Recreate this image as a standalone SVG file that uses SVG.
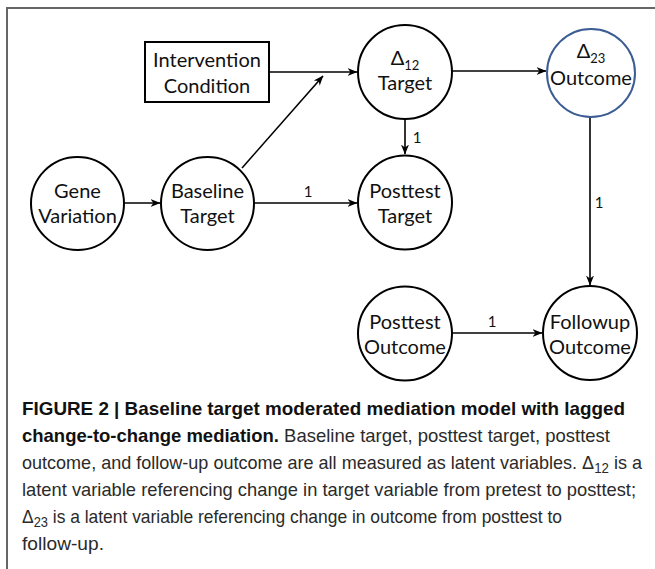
<svg xmlns="http://www.w3.org/2000/svg" width="655" height="569" viewBox="0 0 655 569">
<style>
.n{fill:#fff;stroke:#000;stroke-width:2}
.b{stroke:#3c5d94}
.t{font-family:Lato,"Open Sans",sans-serif;font-size:20px;fill:#111;text-anchor:middle}
.s{font-size:13px}
.l{font-family:Lato,"Open Sans",sans-serif;font-size:15px;fill:#111;text-anchor:middle}
.c{stroke:#000;stroke-width:1.6;fill:none;marker-end:url(#ah)}
.cap{font-family:"Liberation Sans",Arial,sans-serif;font-size:19px;fill:#2a2a2a}
.bd{font-weight:bold;fill:#111}
</style>
<defs>
<marker id="ah" viewBox="0 0 10 10" refX="9.5" refY="5" markerWidth="10" markerHeight="10" markerUnits="userSpaceOnUse" orient="auto">
<path d="M0,1 L10,5 L0,9 L3,5 z" fill="#000"/>
</marker>
</defs>
<path d="M7,569 V8 H655" fill="none" stroke="#666" stroke-width="2"/>
<g id="connectors">
<path class="c" d="M269,72 H357"/>
<path class="c" d="M242,168 L323,76"/>
<path class="c" d="M452,71 H546"/>
<path class="c" d="M405,119 V154"/>
<path class="c" d="M124,203 H160"/>
<path class="c" d="M254,203 H357"/>
<path class="c" d="M590,117 V285"/>
<path class="c" d="M452,333 H542"/>
<text class="l" x="417" y="143">1</text>
<text class="l" x="308" y="197">1</text>
<text class="l" x="599" y="208">1</text>
<text class="l" x="492" y="327">1</text>
</g>
<g id="intervention">
<rect class="n" x="145" y="42" width="124" height="60"/>
<text class="t" x="207" y="67">Intervention</text>
<text class="t" x="207" y="93">Condition</text>
</g>
<g id="delta12">
<circle class="n" cx="405" cy="72" r="47"/>
<text class="t" x="405" y="65">Δ<tspan class="s" dy="5">12</tspan></text>
<text class="t" x="405" y="90">Target</text>
</g>
<g id="delta23">
<circle class="n b" cx="591" cy="73" r="44"/>
<text class="t" x="591" y="58">Δ<tspan class="s" dy="5">23</tspan></text>
<text class="t" x="591" y="85">Outcome</text>
</g>
<g id="gene">
<circle class="n" cx="77.5" cy="203.5" r="46.5"/>
<text class="t" x="77.5" y="198">Gene</text>
<text class="t" x="77.5" y="223">Variation</text>
</g>
<g id="baseline">
<circle class="n" cx="207.5" cy="203.5" r="46.5"/>
<text class="t" x="207.5" y="198">Baseline</text>
<text class="t" x="207.5" y="223">Target</text>
</g>
<g id="posttest-target">
<circle class="n" cx="405" cy="202.5" r="47"/>
<text class="t" x="405" y="198">Posttest</text>
<text class="t" x="405" y="223">Target</text>
</g>
<g id="posttest-outcome">
<circle class="n" cx="405" cy="333.5" r="47"/>
<text class="t" x="405" y="329">Posttest</text>
<text class="t" x="405" y="354">Outcome</text>
</g>
<g id="followup-outcome">
<circle class="n" cx="590" cy="333" r="47"/>
<text class="t" x="590" y="329">Followup</text>
<text class="t" x="590" y="354">Outcome</text>
</g>
<g id="caption">
<text class="cap bd" x="22" y="415" textLength="603" lengthAdjust="spacingAndGlyphs">FIGURE 2 | Baseline target moderated mediation model with lagged</text>
<text class="cap" x="22" y="442" textLength="588" lengthAdjust="spacingAndGlyphs"><tspan class="bd">change-to-change mediation.</tspan> Baseline target, posttest target, posttest</text>
<text class="cap" x="22" y="469" textLength="620" lengthAdjust="spacingAndGlyphs">outcome, and follow-up outcome are all measured as latent variables. Δ<tspan font-size="14" dy="4">12</tspan><tspan dy="-4"> is a</tspan></text>
<text class="cap" x="22" y="496" textLength="614" lengthAdjust="spacingAndGlyphs">latent variable referencing change in target variable from pretest to posttest;</text>
<text class="cap" x="22" y="523" textLength="540" lengthAdjust="spacingAndGlyphs">Δ<tspan font-size="14" dy="4">23</tspan><tspan dy="-4"> is a latent variable referencing change in outcome from posttest to</tspan></text>
<text class="cap" x="22" y="550" textLength="82" lengthAdjust="spacingAndGlyphs">follow-up.</text>
</g>
</svg>
